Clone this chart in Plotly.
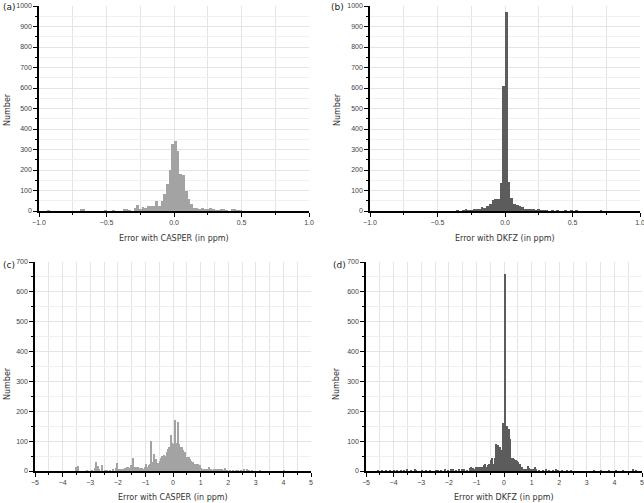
import plotly.graph_objects as go

# --- data (bin centre -> count) ---
casper_narrow_x = [-0.93, -0.69, -0.67, -0.51, -0.45, -0.37, -0.35, -0.33, -0.29, -0.27,
                   -0.25, -0.23, -0.21, -0.19, -0.17, -0.15, -0.13, -0.11, -0.09, -0.07,
                   -0.05, -0.03, -0.01, 0.01, 0.03, 0.05, 0.07, 0.09, 0.11, 0.13,
                   0.15, 0.17, 0.19, 0.21, 0.23, 0.25, 0.27, 0.29, 0.31, 0.33,
                   0.35, 0.37, 0.39, 0.43, 0.45, 0.47, 0.49]
casper_narrow_n = [3, 8, 5, 2, 2, 8, 5, 3, 15, 30,
                   8, 20, 15, 25, 22, 22, 48, 25, 50, 85,
                   130, 200, 327, 340, 292, 180, 178, 100, 60, 35,
                   15, 15, 8, 15, 8, 10, 15, 5, 3, 3,
                   5, 8, 3, 5, 5, 3, 3]

dkfz_narrow_x = [-0.35, -0.31, -0.29, -0.27, -0.25, -0.23, -0.21, -0.19, -0.17, -0.15,
                 -0.13, -0.11, -0.09, -0.07, -0.05, -0.03, -0.01, 0.01, 0.03, 0.05,
                 0.07, 0.09, 0.11, 0.13, 0.15, 0.17, 0.19, 0.21, 0.23, 0.25,
                 0.27, 0.29, 0.31, 0.35, 0.39, 0.45, 0.49, 0.53, 0.71]
dkfz_narrow_n = [3, 3, 5, 3, 4, 8, 10, 12, 20, 15,
                 25, 35, 55, 58, 60, 138, 610, 970, 140, 65,
                 35, 30, 25, 18, 12, 10, 8, 5, 3, 5,
                 4, 3, 2, 2, 1, 2, 2, 3, 2]

casper_wide_x = [-3.525, -3.425, -3.125, -2.925, -2.825, -2.775, -2.725, -2.675, -2.575, -2.475,
                 -2.375, -2.275, -2.175, -2.075, -2.025, -1.975, -1.925, -1.875, -1.825, -1.775,
                 -1.725, -1.675, -1.625, -1.575, -1.525, -1.475, -1.425, -1.375, -1.325, -1.275,
                 -1.225, -1.175, -1.125, -1.075, -1.025, -0.975, -0.925, -0.875, -0.825, -0.775,
                 -0.725, -0.675, -0.625, -0.575, -0.525, -0.475, -0.425, -0.375, -0.325, -0.275,
                 -0.225, -0.175, -0.125, -0.075, -0.025, 0.025, 0.075, 0.125, 0.175, 0.225,
                 0.275, 0.325, 0.375, 0.425, 0.475, 0.525, 0.575, 0.625, 0.675, 0.725,
                 0.775, 0.825, 0.875, 0.925, 0.975, 1.025, 1.075, 1.125, 1.175, 1.225,
                 1.275, 1.325, 1.375, 1.425, 1.475, 1.525, 1.575, 1.625, 1.675, 1.725,
                 1.775, 1.825, 1.875, 1.925, 1.975, 2.075, 2.175, 2.275, 2.375, 2.475,
                 2.575, 2.675, 2.775, 2.875, 3.175, 4.025]
casper_wide_n = [12, 18, 2, 3, 10, 30, 18, 5, 20, 3,
                 3, 3, 5, 10, 26, 5, 5, 6, 8, 8,
                 10, 12, 14, 10, 20, 12, 42, 12, 14, 12,
                 10, 10, 10, 8, 12, 22, 15, 20, 25, 100,
                 30, 58, 40, 20, 28, 35, 42, 50, 55, 50,
                 65, 75, 80, 120, 95, 90, 172, 95, 163, 90,
                 80, 82, 72, 62, 48, 48, 47, 40, 35, 30,
                 25, 25, 22, 25, 20, 10, 5, 6, 5, 5,
                 5, 12, 5, 3, 8, 5, 4, 8, 5, 5,
                 8, 3, 10, 3, 2, 3, 3, 3, 2, 2,
                 5, 5, 3, 2, 3, 2]

dkfz_wide_x = [-4.575, -4.425, -4.275, -4.125, -3.975, -3.875, -3.725, -3.625, -3.525, -3.375,
               -3.225, -3.175, -2.975, -2.825, -2.675, -2.475, -2.375, -2.275, -2.125, -2.025,
               -1.925, -1.825, -1.725, -1.625, -1.525, -1.425, -1.325, -1.225, -1.175, -1.125,
               -1.075, -1.025, -0.975, -0.925, -0.875, -0.825, -0.775, -0.725, -0.675, -0.625,
               -0.575, -0.525, -0.475, -0.425, -0.375, -0.325, -0.275, -0.225, -0.175, -0.125,
               -0.075, -0.025, 0.025, 0.075, 0.125, 0.175, 0.225, 0.275, 0.325, 0.375,
               0.425, 0.475, 0.525, 0.575, 0.625, 0.675, 0.725, 0.775, 0.825, 0.875,
               0.925, 0.975, 1.025, 1.075, 1.125, 1.175, 1.275, 1.425, 1.525, 1.625,
               1.775, 1.875, 1.975, 2.125, 2.275, 2.425, 3.275, 3.525, 3.825, 4.075,
               4.325, 4.675, 4.775]
dkfz_wide_n = [3, 2, 2, 3, 3, 2, 3, 3, 5, 3,
               6, 3, 2, 2, 2, 3, 3, 3, 5, 3,
               5, 5, 3, 5, 5, 5, 3, 10, 12, 10,
               8, 12, 10, 12, 15, 10, 15, 20, 22, 15,
               20, 22, 38, 45, 25, 45, 92, 88, 35, 82,
               70, 160, 660, 150, 150, 140, 106, 45, 45, 40,
               38, 35, 30, 25, 15, 12, 8, 8, 5, 18,
               10, 8, 5, 8, 15, 5, 3, 3, 5, 3,
               3, 5, 3, 3, 3, 2, 3, 2, 3, 2,
               3, 8, 3]

LIGHT = "#a3a3a3"
DARK = "#5c5c5c"
FONT = "DejaVu Sans"
TICKFONT = "Liberation Sans Narrow, Liberation Sans, DejaVu Sans"

fig = go.Figure()

panels = [
    # x, y, bin width, colour, xaxis, yaxis
    (casper_narrow_x, casper_narrow_n, 0.02, LIGHT, "x", "y"),
    (dkfz_narrow_x, dkfz_narrow_n, 0.02, DARK, "x2", "y2"),
    (casper_wide_x, casper_wide_n, 0.05, LIGHT, "x3", "y3"),
    (dkfz_wide_x, dkfz_wide_n, 0.05, DARK, "x4", "y4"),
]
for xs, ns, w, col, xa, ya in panels:
    fig.add_trace(go.Bar(
        x=xs, y=ns, width=w, xaxis=xa, yaxis=ya,
        marker=dict(color=col, line=dict(width=0)),
        showlegend=False,
    ))


def xax(domain, anchor, rng, dtick, minor, fmt):
    return dict(
        domain=domain, anchor=anchor, range=rng, dtick=dtick, tick0=rng[0],
        tickformat=fmt, automargin=False, ticklabeloverflow="allow",
        showline=True, linecolor="black", linewidth=1.5,
        ticks="outside", ticklen=4, tickcolor="black", tickwidth=1,
        tickfont=dict(size=7, color="#444", family=TICKFONT),
        showgrid=True, gridcolor="#e4e4e4", gridwidth=1, zeroline=False,
        minor=dict(dtick=minor, ticks="outside", ticklen=2, tickcolor="black",
                   showgrid=True, gridcolor="#e4e4e4"),
    )


def yax(domain, anchor, top, dtick, minor):
    return dict(
        domain=domain, anchor=anchor, range=[0, top], dtick=dtick,
        automargin=False, ticklabeloverflow="allow",
        showline=True, linecolor="black", linewidth=1.5,
        ticks="outside", ticklen=4, tickcolor="black", tickwidth=1,
        tickfont=dict(size=7, color="#444", family=TICKFONT),
        showgrid=True, gridcolor="#e4e4e4", gridwidth=1, zeroline=False,
        minor=dict(dtick=minor, ticks="outside", ticklen=2, tickcolor="black",
                   showgrid=True, gridcolor="#f0f0f0"),
    )


W, H = 644, 503
top_y = [1 - 211 / H, 1 - 6 / H]
bot_y = [1 - 471 / H, 1 - 262 / H]

fig.update_layout(
    width=W, height=H,
    margin=dict(l=0, r=0, t=0, b=0, autoexpand=False),
    paper_bgcolor="white", plot_bgcolor="white",
    bargap=0,
    font=dict(family=FONT, color="#333"),
    xaxis=xax([39 / W, 309 / W], "y", [-1, 1], 0.5, 0.25, ".1f"),
    yaxis=yax(top_y, "x", 1000, 100, 50),
    xaxis2=xax([370 / W, 640 / W], "y2", [-1, 1], 0.5, 0.25, ".1f"),
    yaxis2=yax(top_y, "x2", 1000, 100, 50),
    xaxis3=xax([35 / W, 311 / W], "y3", [-5, 5], 1, 0.5, "d"),
    yaxis3=yax(bot_y, "x3", 700, 100, 50),
    xaxis4=xax([366 / W, 642 / W], "y4", [-5, 5], 1, 0.5, "d"),
    yaxis4=yax(bot_y, "x4", 700, 100, 50),
)

labels = [
    ("(a)", 1, 7), ("(b)", 329, 7),
    ("(c)", 1, 265), ("(d)", 331, 265),
]
for txt, px, py in labels:
    fig.add_annotation(text=txt, x=px / W, y=1 - py / H, xref="paper", yref="paper",
                       xanchor="left", yanchor="middle", showarrow=False,
                       font=dict(size=9, color="#222", family=FONT))

xtitles = [
    ("Error with CASPER (in ppm)", 174, 238),
    ("Error with DKFZ (in ppm)", 505, 238),
    ("Error with CASPER (in ppm)", 173, 497),
    ("Error with DKFZ (in ppm)", 504, 497),
]
for txt, px, py in xtitles:
    fig.add_annotation(text=txt, x=px / W, y=1 - py / H, xref="paper", yref="paper",
                       xanchor="center", yanchor="middle", showarrow=False,
                       font=dict(size=8, color="#333", family=FONT))

ytitles = [(7, 110), (337, 110), (7, 384), (336, 384)]
for px, py in ytitles:
    fig.add_annotation(text="Number", x=px / W, y=1 - py / H, xref="paper", yref="paper",
                       xanchor="center", yanchor="middle", textangle=-90, showarrow=False,
                       font=dict(size=8, color="#333", family=FONT))

# the page body has a default 8px margin; drop it so the figure sits at 0,0
fig.write_html("out.html", config={"displayModeBar": False},
               post_script="document.body.style.margin='0';")
